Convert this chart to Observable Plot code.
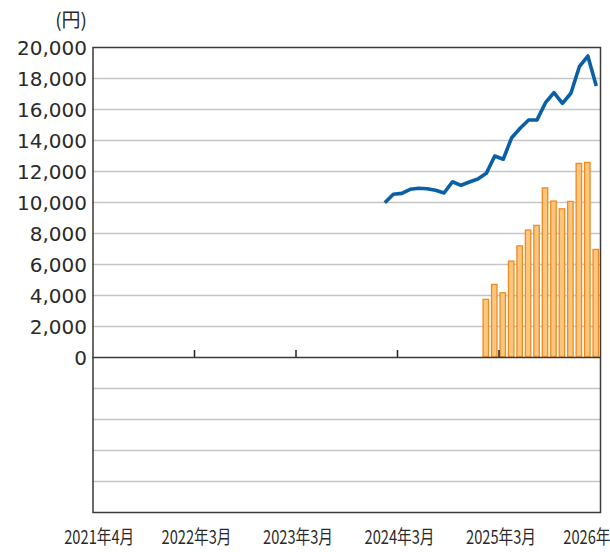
<!DOCTYPE html>
<html><head><meta charset="utf-8">
<script src="https://cdn.jsdelivr.net/npm/d3@7"></script>
<script src="https://cdn.jsdelivr.net/npm/@observablehq/plot@0.6"></script>
<style>html,body{margin:0;padding:0;background:#fff;overflow:hidden}</style>
</head><body><div id="chart"></div>
<script>
// ---- data ----
const lineMonths = ["2024-02","2024-03","2024-04","2024-05","2024-06","2024-07","2024-08","2024-09","2024-10","2024-11","2024-12",
  "2025-01","2025-02","2025-03","2025-04","2025-05","2025-06","2025-07","2025-08","2025-09","2025-10","2025-11","2025-12",
  "2026-01","2026-02","2026-03"];
const lineValues = [9990, 10530, 10590, 10850, 10920, 10890, 10790, 10610, 11340, 11110, 11320,
  11520, 11880, 13000, 12790, 14180, 14790, 15320, 15330, 16440, 17090, 16400, 17050,
  18760, 19450, 17520];
const barMonths = ["2025-02","2025-03","2025-04","2025-05","2025-06","2025-07","2025-08","2025-09","2025-10","2025-11","2025-12",
  "2026-01","2026-02","2026-03"];
const barValues = [3720, 4680, 4140, 6190, 7170, 8190, 8490, 10910, 10060, 9560, 10040, 12490, 12550, 6940];
const yTicks = [0, 2000, 4000, 6000, 8000, 10000, 12000, 14000, 16000, 18000, 20000];
const gridValues = [-8000, -6000, -4000, -2000, 2000, 4000, 6000, 8000, 10000, 12000, 14000, 16000, 18000];
const yDomain = [-10000, 20000];
const xTickMonths = ["2022-03", "2023-03", "2024-03", "2025-03"];
const xLabelMonths = ["2021-04", "2022-03", "2023-03", "2024-03", "2025-03", "2026-03"];
const xLabels = ["2021年4月", "2022年3月", "2023年3月", "2024年3月", "2025年3月", "2026年3月"];
const yUnit = "(円)";
const firstMonth = "2021-04";
const monthCount = 60;

// ---- helpers ----
function monthIndex(s) {
  const [y, m] = s.split("-").map(Number);
  const [y0, m0] = firstMonth.split("-").map(Number);
  return (y - y0) * 12 + (m - m0);
}
const lineData = lineMonths.map((m, i) => ({i: monthIndex(m), v: lineValues[i]}));
const barData = barMonths.map((m, i) => ({i: monthIndex(m), v: barValues[i]}));
const labelPos = xLabelMonths.map((m, i) =>
  (i === 0 || i === xLabelMonths.length - 1) ? monthIndex(m) + 0.5 : monthIndex(m) + 1);
const tickLen = (yDomain[1] - yDomain[0]) * 7 / 465;

const plot = Plot.plot({
  width: 610, height: 552,
  marginLeft: 92.5, marginRight: 10, marginTop: 47, marginBottom: 40,
  x: {type: "linear", domain: [0, monthCount], axis: null},
  y: {domain: yDomain, axis: null},
  style: {background: "#fff"},
  marks: [
    Plot.ruleY(gridValues, {stroke: "#c6c6c6", strokeWidth: 1.4}),
    Plot.rect(barData, {x1: d => d.i, x2: d => d.i + 1, y1: 0, y2: "v",
      insetLeft: 1.5, insetRight: 1.5, fill: "#fcc67e", stroke: "#ee8a1e", strokeWidth: 1.3}),
    Plot.line(lineData, {x: d => d.i + 0.5, y: "v", stroke: "#0b5fa5", strokeWidth: 3.6,
      strokeLinejoin: "round", strokeLinecap: "butt"}),
    Plot.frame({stroke: "#3a3a3a", strokeWidth: 1.5}),
    Plot.ruleY([0], {stroke: "#3a3a3a", strokeWidth: 1.5}),
    Plot.ruleX(xTickMonths, {x: m => monthIndex(m) + 1, y1: 0, y2: tickLen, stroke: "#222", strokeWidth: 1.5}),
    Plot.text(yTicks, {y: d => d, frameAnchor: "left", textAnchor: "end", lineAnchor: "middle", dx: -6, dy: 1,
      text: d => d3.format(",")(d), fontSize: 20, fontFamily: "DejaVu Sans", fill: "#2a2a2a"}),
    Plot.text([yUnit], {frameAnchor: "top-left", textAnchor: "end", lineAnchor: "middle", dx: -6, dy: -27,
      fontSize: 19, fontFamily: "Noto Sans CJK JP", fill: "#2a2a2a"}),
    Plot.text(xLabels, {x: (d, i) => labelPos[i], frameAnchor: "bottom", lineAnchor: "middle", dy: 25, dx: 2,
      fontSize: 19, fontFamily: "Noto Sans CJK JP", fill: "#2a2a2a"})
  ]
});
plot.querySelectorAll("text").forEach(t => {
  if (xLabels.includes(t.textContent)) {
    t.setAttribute("textLength", "70");
    t.setAttribute("lengthAdjust", "spacingAndGlyphs");
  }
});
document.getElementById("chart").appendChild(plot);
</script>
</body></html>
